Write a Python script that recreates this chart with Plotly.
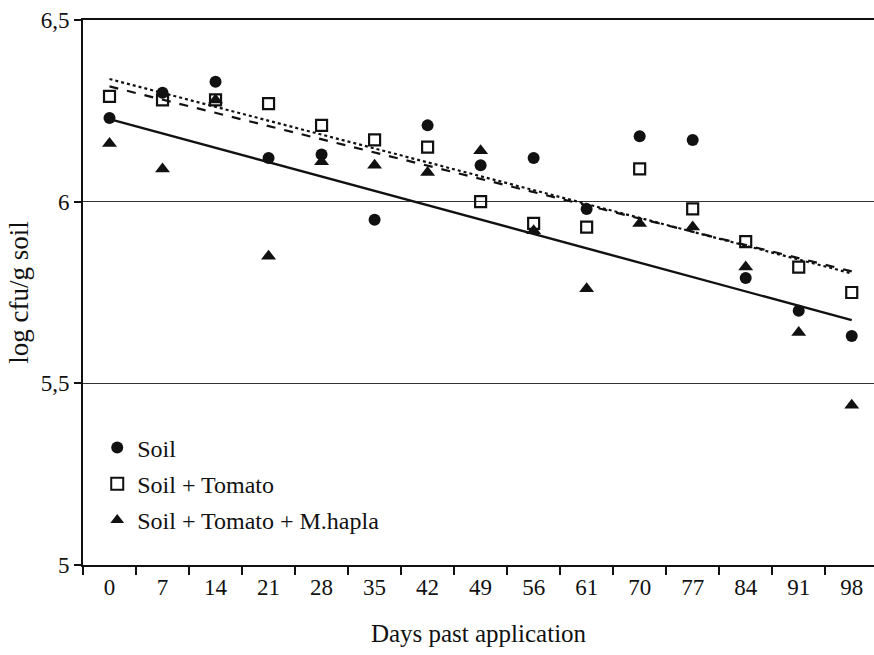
import numpy as np
import plotly.graph_objects as go

# Sampling days (category labels as printed on the axis)
days = ["0", "7", "14", "21", "28", "35", "42", "49", "56", "61", "70", "77", "84", "91", "98"]

# log cfu/g soil per treatment
soil = [6.23, 6.30, 6.33, 6.12, 6.13, 5.95, 6.21, 6.10, 6.12, 5.98, 6.18, 6.17, 5.79, 5.70, 5.63]
soil_tomato = [6.29, 6.28, 6.28, 6.27, 6.21, 6.17, 6.15, 6.00, 5.94, 5.93, 6.09, 5.98, 5.89, 5.82, 5.75]
soil_tomato_hapla = [6.16, 6.09, 6.28, 5.85, 6.11, 6.10, 6.08, 6.14, 5.92, 5.76, 5.94, 5.93, 5.82, 5.64, 5.44]

y_ticks = [5, 5.5, 6, 6.5]
y_tick_text = ["5", "5,5", "6", "6,5"]

FONT = "Liberation Serif"
INK = "#111111"


def trend(values):
    """Least-squares linear trend over the sampling order."""
    idx = np.arange(len(values))
    slope, intercept = np.polyfit(idx, values, 1)
    return list(slope * idx + intercept)


fig = go.Figure()

# Linear trend lines (not in legend)
fig.add_trace(go.Scatter(x=days, y=trend(soil_tomato_hapla), mode="lines",
                         line=dict(color=INK, width=2.4, dash="solid"),
                         showlegend=False, hoverinfo="skip"))
fig.add_trace(go.Scatter(x=days, y=trend(soil), mode="lines",
                         line=dict(color=INK, width=2.2, dash="dash"),
                         showlegend=False, hoverinfo="skip"))
fig.add_trace(go.Scatter(x=days, y=trend(soil_tomato), mode="lines",
                         line=dict(color=INK, width=2.2, dash="dot"),
                         showlegend=False, hoverinfo="skip"))

# Measured points
fig.add_trace(go.Scatter(x=days, y=soil, mode="markers", name="Soil",
                         legendgroup="a",
                         marker=dict(symbol="circle", size=12, color=INK)))
fig.add_trace(go.Scatter(x=days, y=soil_tomato, mode="markers", name="Soil + Tomato",
                         legendgroup="b",
                         marker=dict(symbol="square-open", size=11, color=INK,
                                     line=dict(width=2.2, color=INK))))
fig.add_trace(go.Scatter(x=days, y=soil_tomato_hapla, mode="markers",
                         name="Soil + Tomato + M.hapla", legendgroup="c",
                         marker=dict(symbol="triangle-up", size=13, color=INK)))

fig.update_layout(
    width=874, height=655,
    margin=dict(l=83, r=0, t=20, b=90),
    paper_bgcolor="white", plot_bgcolor="white",
    font=dict(family=FONT, size=23, color=INK),
    legend=dict(x=0.018, y=0.256, xanchor="left", yanchor="top",
                bgcolor="rgba(0,0,0,0)", font=dict(family=FONT, size=24, color=INK),
                traceorder="grouped", tracegroupgap=2,
                itemsizing="constant"),
    xaxis=dict(
        type="category",
        categoryorder="array", categoryarray=days,
        range=[-0.5, 14.42],
        tickson="boundaries",
        ticks="outside", ticklen=8, tickwidth=1.5, tickcolor=INK,
        showline=True, linecolor=INK, linewidth=2, mirror=True,
        showgrid=False, zeroline=False,
        tickfont=dict(family=FONT, size=23),
        title=dict(text="Days past application", font=dict(family=FONT, size=25), standoff=26),
    ),
    yaxis=dict(
        range=[5, 6.5],
        tickvals=y_ticks, ticktext=y_tick_text,
        ticks="outside", ticklen=7, tickwidth=1.5, tickcolor=INK,
        showline=True, linecolor=INK, linewidth=2,
        showgrid=True, gridcolor="#333333", gridwidth=1,
        zeroline=False,
        tickfont=dict(family=FONT, size=23),
        title=dict(text="log cfu/g soil", font=dict(family=FONT, size=27), standoff=4),
    ),
)

fig.write_html("out.html")
